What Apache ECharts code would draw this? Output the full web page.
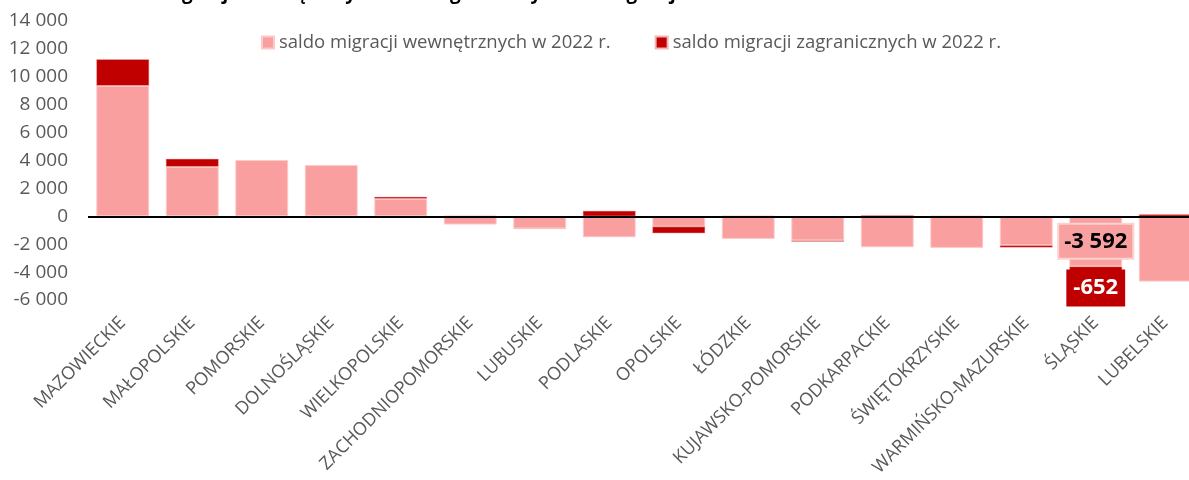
<!DOCTYPE html>
<html>
<head>
<meta charset="utf-8">
<script src="https://cdn.jsdelivr.net/npm/echarts@6/dist/echarts.min.js"></script>
<style>
  html, body { margin: 0; padding: 0; background: #fff; }
  #myChart { width: 1189px; height: 480px; }
</style>
</head>
<body>
<div id="myChart"></div>
<script>
// województwa
var categories = ['MAZOWIECKIE', 'MAŁOPOLSKIE', 'POMORSKIE', 'DOLNOŚLĄSKIE', 'WIELKOPOLSKIE',
  'ZACHODNIOPOMORSKIE', 'LUBUSKIE', 'PODLASKIE', 'OPOLSKIE', 'ŁÓDZKIE', 'KUJAWSKO-POMORSKIE',
  'PODKARPACKIE', 'ŚWIĘTOKRZYSKIE', 'WARMIŃSKO-MAZURSKIE', 'ŚLĄSKIE', 'LUBELSKIE'];
// saldo migracji wewnętrznych
var internalValues = [9350, 3550, 4030, 3670, 1260, -590, -870, -1500, -740, -1620, -1730, -2220, -2265, -2080, -3592, -4680];
// saldo migracji zagranicznych
var foreignValues = [1910, 570, -120, -100, 140, 30, -20, 390, -480, 20, -90, 80, 20, -165, -652, 150];
var yTicks = { min: -6000, max: 14000, interval: 2000 };
var labelledIndex = 14; // ŚLĄSKIE

function fmt(v) {
  var s = String(Math.abs(v)).replace(/\B(?=(\d{3})+(?!\d))/g, ' ');
  return (v < 0 ? '-' : '') + s;
}

var myChart = echarts.init(document.getElementById('myChart'));

var pinkData = internalValues.map(function (v, i) {
  if (i !== labelledIndex) return v;
  return {
    value: v,
    label: {
      show: true, position: 'inside', formatter: function (p) { return fmt(p.value); },
      color: '#000', fontSize: 22, fontWeight: 'bold', fontFamily: 'Open Sans',
      backgroundColor: '#F9A0A0', borderColor: '#FCD2D2', borderWidth: 2,
      padding: [3, 5, 2, 5], lineHeight: 28
    }
  };
});
var redData = foreignValues.map(function (v, i) {
  if (i !== labelledIndex) return v;
  return {
    value: v,
    label: {
      show: true, position: 'inside', offset: [0, 17], formatter: function (p) { return fmt(p.value); },
      color: '#fff', fontSize: 22, fontWeight: 'bold', fontFamily: 'Open Sans',
      backgroundColor: '#C00000', padding: [5, 7, 4, 7], lineHeight: 28
    }
  };
});

myChart.setOption({
  animation: false,
  backgroundColor: '#fff',
  color: ['#F99F9F', '#C00000'],
  title: {
    text: 'Saldo migracji wewnętrznych oraz zagranicznych według województw',
    left: 96, top: -22,
    textStyle: { color: '#000', fontSize: 19, fontWeight: 'bold', fontFamily: 'Open Sans', lineHeight: 22 }
  },
  legend: {
    left: 256, top: 28,
    itemWidth: 12, itemHeight: 12, itemGap: 44,
    icon: 'rect',
    textStyle: { color: '#595959', fontSize: 18.5, fontFamily: 'Open Sans' },
    data: ['saldo migracji wewnętrznych w 2022 r.', 'saldo migracji zagranicznych w 2022 r.']
  },
  grid: { left: 88, top: 21, width: 1112, height: 279, outerBoundsMode: 'none' },
  xAxis: {
    type: 'category',
    data: categories,
    axisLine: { show: false, onZero: false },
    axisTick: { show: false },
    axisLabel: {
      rotate: 45, interval: 0, margin: 20,
      color: '#595959', fontSize: 18, fontFamily: 'Open Sans'
    }
  },
  yAxis: {
    type: 'value',
    min: yTicks.min, max: yTicks.max, interval: yTicks.interval,
    axisLine: { show: false },
    axisTick: { show: false },
    splitLine: { show: false },
    axisLabel: {
      margin: 20, color: '#595959', fontSize: 19, fontFamily: 'Open Sans',
      formatter: function (v) { return fmt(v); }
    }
  },
  series: [
    {
      name: 'saldo migracji wewnętrznych w 2022 r.',
      type: 'bar', stack: 'saldo', barCategoryGap: '24%',
      itemStyle: { borderColor: '#FCC8C8', borderWidth: 1 },
      data: pinkData
    },
    {
      name: 'saldo migracji zagranicznych w 2022 r.',
      type: 'bar', stack: 'saldo', barCategoryGap: '24%',
      itemStyle: { borderColor: '#F4B4B4', borderWidth: 0.5 },
      data: redData,
      markLine: {
        silent: true, symbol: 'none', label: { show: false },
        lineStyle: { color: '#000', width: 2, type: 'solid' },
        data: [{ yAxis: 0 }]
      }
    }
  ]
});
</script>
</body>
</html>
